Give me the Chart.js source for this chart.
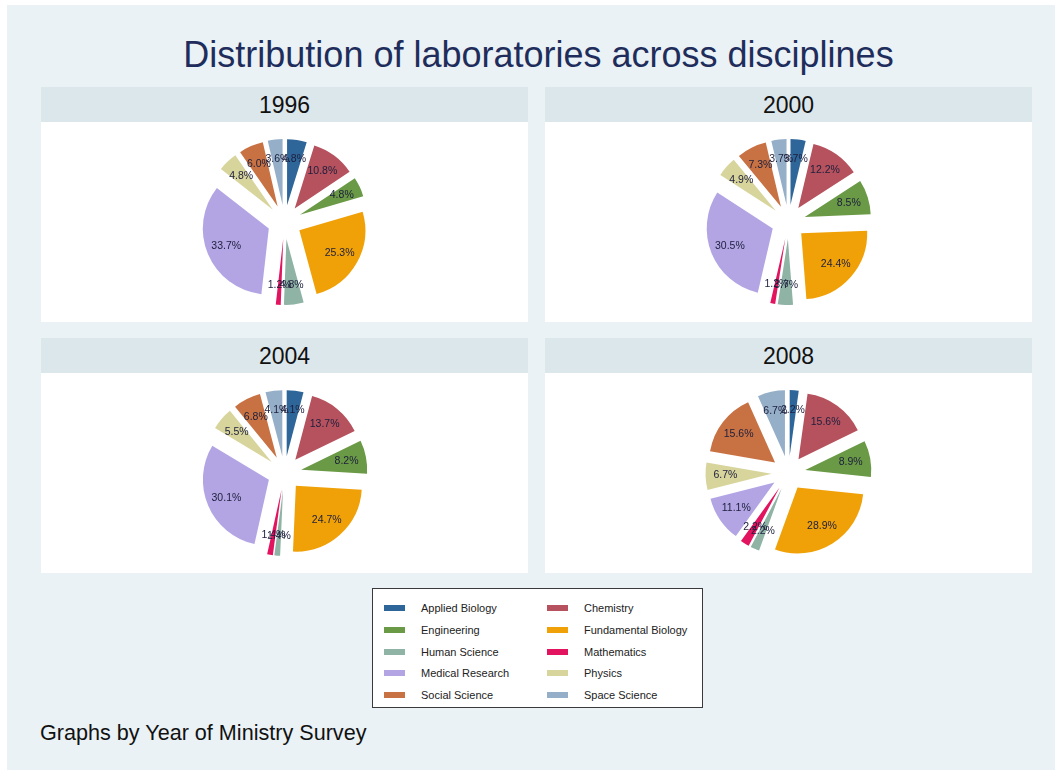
<!DOCTYPE html>
<html>
<head>
<meta charset="utf-8">
<script src="https://cdn.jsdelivr.net/npm/chart.js@4.4.1/dist/chart.umd.min.js"></script>
<style>
html,body{margin:0;padding:0;background:#fff;width:1059px;height:774px;overflow:hidden;font-family:"Liberation Sans",Arial,Helvetica,sans-serif;}
#bg{position:absolute;left:7px;top:5px;width:1048px;height:765px;background:#eaf2f5;}
#title{position:absolute;left:0;width:1077px;top:33px;text-align:center;font-size:36px;line-height:44px;color:#1f2d5c;white-space:nowrap;}
.panel{position:absolute;width:487px;}
.hdr{height:35px;background:#dce7ec;text-align:center;font-size:23px;line-height:36px;color:#111;}
.pbody{height:200px;background:#fff;position:relative;}
.pbody canvas{position:absolute;left:0;top:0;}
#legend{position:absolute;left:372px;top:588px;width:329px;height:118px;border:1.5px solid #3a3a3a;background:#fff;}
.sw{position:absolute;width:21px;height:6px;}
.lt{position:absolute;font-size:11px;line-height:14px;color:#222;white-space:nowrap;}
#foot{position:absolute;left:40px;top:720px;font-size:21.6px;line-height:26px;color:#111;white-space:nowrap;}
</style>
</head>
<body>
<div id="bg"></div>
<div id="title">Distribution of laboratories across disciplines</div>
<div id="panels"></div>
<div id="legend"></div>
<div id="foot">Graphs by Year of Ministry Survey</div>
<script>
const categories = ['Applied Biology','Chemistry','Engineering','Fundamental Biology','Human Science','Mathematics','Medical Research','Physics','Social Science','Space Science'];
const colors = ['#2f6699','#b5525e','#6a9a45','#f0a108','#8fb3a4','#e2135f','#b3a5e4','#d8d59c','#c87244','#95afc8'];
const years = ['1996','2000','2004','2008'];
const share1996 = [4.8,10.8,4.8,25.3,4.8,1.2,33.7,4.8,6.0,3.6];
const share2000 = [3.7,12.2,8.5,24.4,3.7,1.2,30.5,4.9,7.3,3.7];
const share2004 = [4.1,13.7,8.2,24.7,1.4,1.4,30.1,5.5,6.8,4.1];
const share2008 = [2.2,15.6,8.9,28.9,2.2,2.2,11.1,6.7,15.6,6.7];
const shares = [share1996, share2000, share2004, share2008];

const RADIUS = 66;
const SHIFT = 17;       // explode distance in px
const OFFSET_DIV = 4;   // Chart.js v4 arc translates by offset/4

const panelPos = [[41,87],[545,87],[41,338],[545,338]];

// Chart.js enlarges/narrows exploded arcs depending on their size; neutralise so all slices keep one radius
const evenRadius = {
  id:'evenRadius',
  beforeDatasetDraw(chart, args){
    args.meta.data.forEach(arc=>{ arc.circumference = Math.PI/2; });
  }
};
const pieLabels = {
  id:'pieLabels',
  afterDatasetsDraw(chart){
    const ctx = chart.ctx;
    const meta = chart.getDatasetMeta(0);
    const vals = chart.data.datasets[0].data;
    ctx.save();
    ctx.font = '10.5px "Liberation Sans", Arial, sans-serif';
    ctx.fillStyle = '#1c1e3c';
    ctx.textAlign = 'center';
    ctx.textBaseline = 'middle';
    meta.data.forEach((arc,i)=>{
      const mid = (arc.startAngle + arc.endAngle)/2;
      const r = SHIFT + 0.7*RADIUS;
      ctx.fillText(vals[i].toFixed(1)+'%', arc.x + Math.cos(mid)*r, arc.y + Math.sin(mid)*r);
    });
    ctx.restore();
  }
};

const panels = document.getElementById('panels');
years.forEach((yr, k)=>{
  const p = document.createElement('div');
  p.className = 'panel';
  p.style.left = panelPos[k][0]+'px';
  p.style.top = panelPos[k][1]+'px';
  p.innerHTML = '<div class="hdr">'+yr+'</div><div class="pbody"><canvas width="487" height="200" style="width:487px;height:200px"></canvas></div>';
  panels.appendChild(p);
  const cv = p.querySelector('canvas');
  new Chart(cv, {
    type:'pie',
    data:{
      labels: categories,
      datasets:[{
        data: shares[k],
        backgroundColor: colors,
        borderWidth: 0,
        offset: SHIFT*OFFSET_DIV,
        hoverOffset: SHIFT*OFFSET_DIV
      }]
    },
    options:{
      responsive:false,
      animation:false,
      events:[],
      radius: RADIUS,
      layout:{padding:0},
      plugins:{legend:{display:false}, tooltip:{enabled:false}}
    },
    plugins:[evenRadius, pieLabels]
  });
});

const lg = document.getElementById('legend');
categories.forEach((c,i)=>{
  const col = i%2, row = Math.floor(i/2);
  const cy = 19 + row*21.75;
  const sw = document.createElement('div');
  sw.className='sw';
  sw.style.left = (11 + col*163)+'px';
  sw.style.top = (cy-3)+'px';
  sw.style.background = colors[i];
  lg.appendChild(sw);
  const t = document.createElement('div');
  t.className='lt';
  t.style.left = (48 + col*163)+'px';
  t.style.top = (cy-7)+'px';
  t.textContent = c;
  lg.appendChild(t);
});
</script>
</body>
</html>
